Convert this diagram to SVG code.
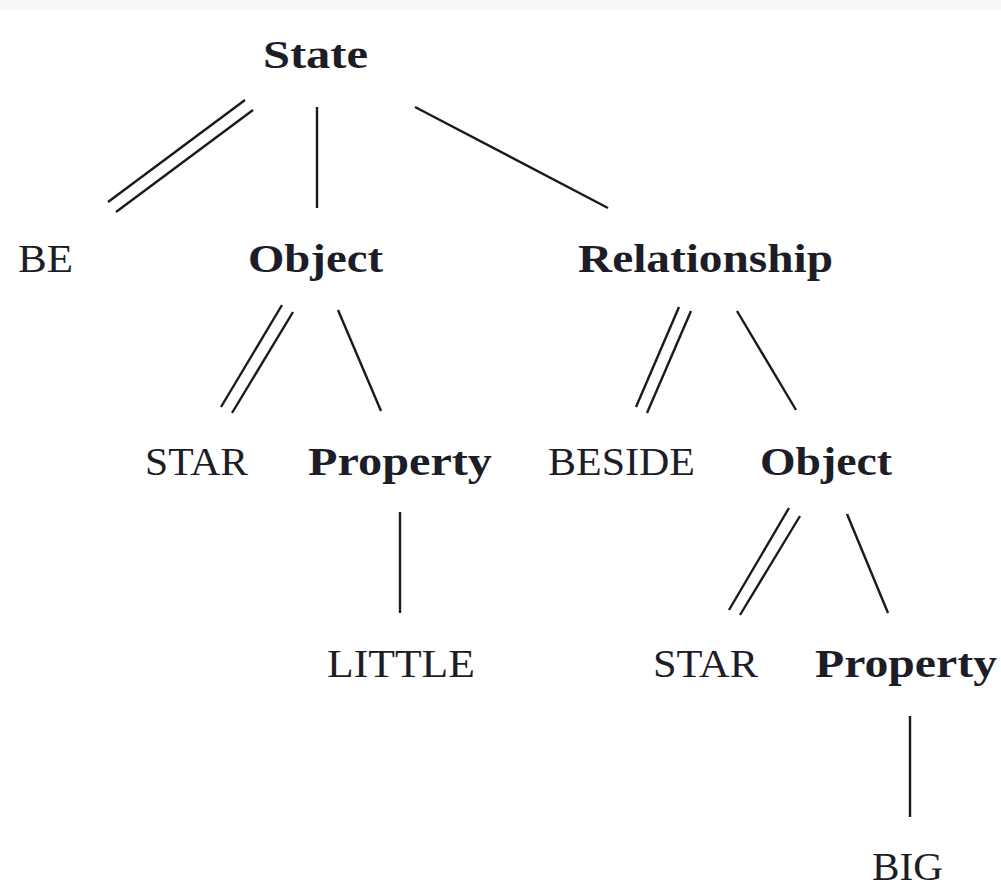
<svg xmlns="http://www.w3.org/2000/svg" width="1001" height="888" viewBox="0 0 1001 888">
  <style>
    .lbl { font-family: "Liberation Serif", "Times New Roman", serif; font-size: 40px; fill: #1d1d28; }
    .cat { font-weight: bold; }
    .edge { stroke: #1a1a1a; stroke-width: 2.4; stroke-linecap: butt; fill: none; }
  </style>
  <rect x="0" y="0" width="1001" height="888" fill="#ffffff"/>
  <rect x="0" y="0" width="1001" height="11" fill="#f8f8f8"/>

  <!-- tree edges: double lines mark head relations -->
  <g id="connectors">
    <line class="edge" x1="245" y1="100" x2="108" y2="202"/>
    <line class="edge" x1="253" y1="110" x2="116" y2="212"/>
    <line class="edge" x1="317" y1="107" x2="317" y2="208"/>
    <line class="edge" x1="415" y1="107" x2="608" y2="208"/>

    <line class="edge" x1="282" y1="305" x2="221" y2="407"/>
    <line class="edge" x1="293" y1="312" x2="232" y2="413"/>
    <line class="edge" x1="338" y1="310" x2="381" y2="411"/>
    <line class="edge" x1="400" y1="512" x2="400" y2="613"/>

    <line class="edge" x1="679" y1="307" x2="636" y2="407"/>
    <line class="edge" x1="691" y1="311" x2="647" y2="413"/>
    <line class="edge" x1="737" y1="311" x2="796" y2="410"/>

    <line class="edge" x1="789" y1="508" x2="729" y2="610"/>
    <line class="edge" x1="800" y1="516" x2="740" y2="615"/>
    <line class="edge" x1="847" y1="514" x2="888" y2="613"/>
    <line class="edge" x1="910" y1="716" x2="910" y2="817"/>
  </g>

  <g id="state"><text class="lbl cat" x="263" y="68" textLength="105" lengthAdjust="spacingAndGlyphs">State</text></g>
  <g id="be"><text class="lbl" x="18" y="272" textLength="55" lengthAdjust="spacingAndGlyphs">BE</text></g>
  <g id="object1"><text class="lbl cat" x="248" y="272" textLength="135" lengthAdjust="spacingAndGlyphs">Object</text></g>
  <g id="relationship"><text class="lbl cat" x="578" y="272" textLength="255" lengthAdjust="spacingAndGlyphs">Relationship</text></g>
  <g id="star1"><text class="lbl" x="145" y="475" textLength="103" lengthAdjust="spacingAndGlyphs">STAR</text></g>
  <g id="property1"><text class="lbl cat" x="308" y="475" textLength="184" lengthAdjust="spacingAndGlyphs">Property</text></g>
  <g id="beside"><text class="lbl" x="548" y="475" textLength="147" lengthAdjust="spacingAndGlyphs">BESIDE</text></g>
  <g id="object2"><text class="lbl cat" x="760" y="475" textLength="132" lengthAdjust="spacingAndGlyphs">Object</text></g>
  <g id="little"><text class="lbl" x="327" y="677" textLength="148" lengthAdjust="spacingAndGlyphs">LITTLE</text></g>
  <g id="star2"><text class="lbl" x="653" y="677" textLength="105" lengthAdjust="spacingAndGlyphs">STAR</text></g>
  <g id="property2"><text class="lbl cat" x="815" y="677" textLength="182" lengthAdjust="spacingAndGlyphs">Property</text></g>
  <g id="big"><text class="lbl" x="872" y="880" textLength="71" lengthAdjust="spacingAndGlyphs">BIG</text></g>
</svg>
